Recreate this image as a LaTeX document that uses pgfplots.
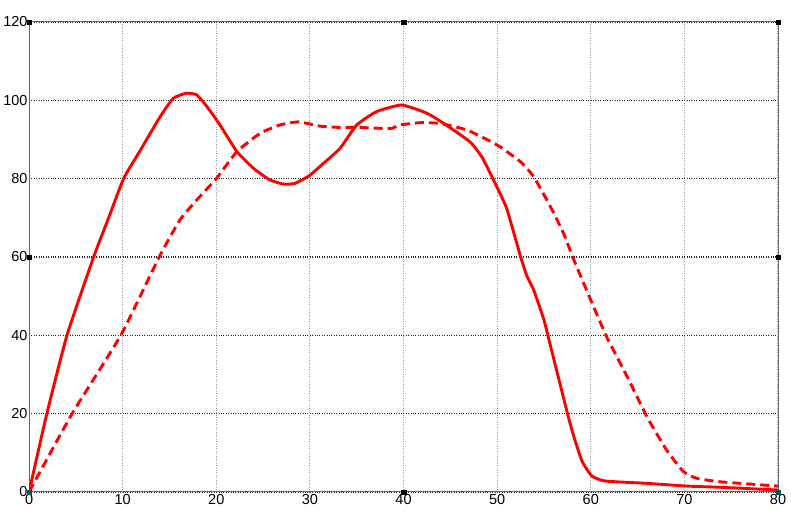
\documentclass[border=0pt]{standalone}
\usepackage{fontspec}
\setmainfont{Liberation Sans}
\usepackage{pgfplots}
\pgfplotsset{compat=1.18}
\begin{document}
\begin{tikzpicture}[x=1pt,y=1pt]
\begin{axis}[
    at={(0,0)}, anchor=south west,
    scale only axis,
    width=749pt, height=470pt,
    xmin=0, xmax=80, ymin=0, ymax=120,
    xtick={0,10,...,80},
    ytick={0,20,...,120},
    tick style={draw=none},
    axis line style={gray!80!black, line width=1pt},
    grid=major,
    x grid style={gray!80, dotted, line width=1.1pt},
    y grid style={black!85, dotted, line width=1.1pt},
    ticklabel style={font=\fontsize{14.5}{16}\selectfont},
    /pgf/number format/assume math mode=true,
    yticklabel style={xshift=2pt},
    xticklabel style={yshift=1pt},
    clip mode=individual,
]
% solid curve
\addplot[red, line width=2.9pt, smooth, tension=0.3] coordinates {
(0,0) (1.9,20) (4.05,40) (6.9,60) (8.5,70) (10.1,80) (11.9,87.3) (14,95.8)
(15.4,100.5) (16.8,101.8) (17.9,101.4) (19,98.4) (20.4,93.7) (22.2,86.9)
(24,82.6) (25.7,79.7) (27.2,78.6) (28.4,78.8) (29.9,80.7) (31.4,83.8)
(33.2,87.7) (35,93.7) (37.1,97.1) (39.8,98.8) (42.5,96.7) (44.3,94.1)
(47.1,89.4) (48.4,85.4) (49.6,79.7) (51,72.5) (52.5,60.1) (53.2,55) (53.9,51.6)
(55,43.9) (55.8,36.3) (57.6,19.2) (58.3,13.3) (59.1,7.7) (60.1,4.1)
(61.5,2.8) (66,2.2) (70.3,1.5) (73.8,1.2) (80,0.5)
};
% dashed curve
\addplot[red, line width=2.9pt, smooth, tension=0.3, dash pattern=on 9pt off 5pt] coordinates {
(0,0) (4.6,20) (9.8,40) (13.9,60) (16.1,69.4) (18,74.8) (20,80) (22.2,86.9)
(24.7,91.6) (26.8,93.7) (28.8,94.5) (31.1,93.4) (33,93.1) (35,93.1)
(38.6,92.8) (39.6,93.7) (41.8,94.3) (43.9,94.1) (46.8,92.4) (50,88.6)
(52.5,84.3) (53.9,80.5) (55.7,72.8) (57.1,66) (58.2,59.2) (60,49)
(61.7,39.6) (63.9,29.4) (66,19.2) (68.1,10.7) (69.9,5.2) (71.3,3.5)
(73.8,2.6) (80,1.5)
};
% corner and middle markers of the box
\addplot[only marks, mark=square*, mark size=2.2pt, black] coordinates {
(0,120) (40,120) (80,120) (0,60) (80,60) (40,0)
};
\addplot[only marks, mark=square*, mark size=2.2pt, teal!70!black] coordinates {
(0,0) (80,0)
};
\end{axis}
\path[use as bounding box] (-29pt,-27pt) rectangle (762pt,492pt);
\end{tikzpicture}
\end{document}
